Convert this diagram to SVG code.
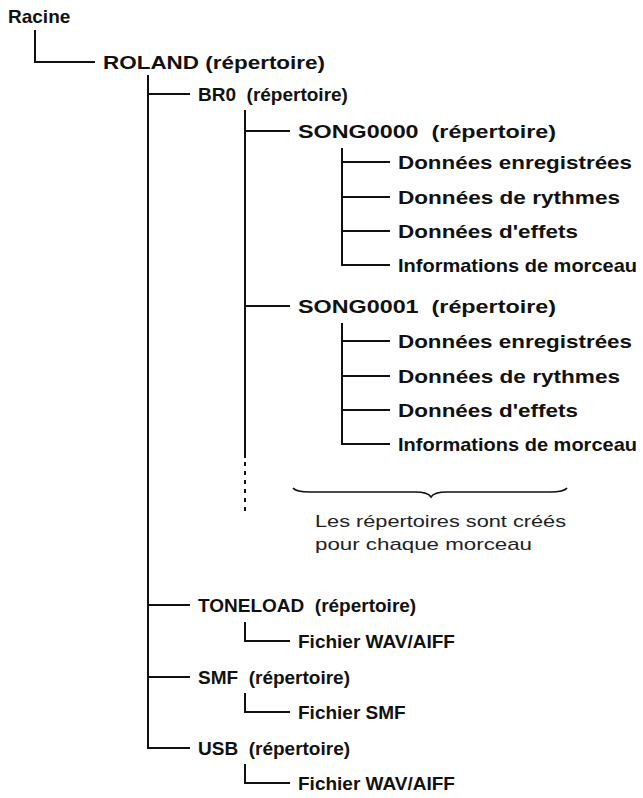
<svg xmlns="http://www.w3.org/2000/svg" width="643" height="798" viewBox="0 0 643 798">
<style>
.t{font-family:"Liberation Sans",Arial,sans-serif;font-weight:bold;font-size:19px;fill:#111}
.n{font-family:"Liberation Sans",Arial,sans-serif;font-size:17px;fill:#222}
.l{fill:none;stroke:#111;stroke-width:2}
</style>
<rect width="643" height="798" fill="#fff"/>
<g id="connectors">
<path class="l" d="M35 30V62H95"/>
<path class="l" d="M148 75V748H190M148 94H190M148 605H190M148 677H190"/>
<path class="l" d="M245 110V458M245 131H290M245 306H290"/>
<path class="l" d="M245 462V512" stroke-dasharray="4,5"/>
<path class="l" d="M342 148V265H390M342 162H390M342 197H390M342 231H390"/>
<path class="l" d="M342 323V444H390M342 341H390M342 376H390M342 410H390"/>
<path class="l" d="M245 622V641H290M245 693V712H290M245 764V783H290"/>
<path fill="none" stroke="#111" stroke-width="1.6" d="M293 488Q296 492 310 492H415Q428 492 431 497Q434 492 447 492H550Q564 492 567 488"/>
</g>
<g id="racine"><text class="t" x="8" y="23">Racine</text></g>
<g id="roland"><text class="t" x="103" y="69" textLength="222" lengthAdjust="spacingAndGlyphs">ROLAND (répertoire)</text></g>
<g id="br0"><text class="t" x="198" y="101" xml:space="preserve">BR0  (répertoire)</text></g>
<g id="song0000"><text class="t" x="298" y="138" textLength="258" lengthAdjust="spacingAndGlyphs" xml:space="preserve">SONG0000  (répertoire)</text>
<text class="t" x="398" y="169" textLength="234" lengthAdjust="spacingAndGlyphs">Données enregistrées</text>
<text class="t" x="398" y="204" textLength="222" lengthAdjust="spacingAndGlyphs">Données de rythmes</text>
<text class="t" x="398" y="238" textLength="180" lengthAdjust="spacingAndGlyphs">Données d'effets</text>
<text class="t" x="398" y="272" textLength="239" lengthAdjust="spacingAndGlyphs">Informations de morceau</text></g>
<g id="song0001"><text class="t" x="298" y="313" textLength="258" lengthAdjust="spacingAndGlyphs" xml:space="preserve">SONG0001  (répertoire)</text>
<text class="t" x="398" y="348" textLength="234" lengthAdjust="spacingAndGlyphs">Données enregistrées</text>
<text class="t" x="398" y="383" textLength="222" lengthAdjust="spacingAndGlyphs">Données de rythmes</text>
<text class="t" x="398" y="417" textLength="180" lengthAdjust="spacingAndGlyphs">Données d'effets</text>
<text class="t" x="398" y="451" textLength="239" lengthAdjust="spacingAndGlyphs">Informations de morceau</text></g>
<g id="note"><text class="n" x="315" y="527" textLength="251" lengthAdjust="spacingAndGlyphs">Les répertoires sont créés</text>
<text class="n" x="315" y="550" textLength="217" lengthAdjust="spacingAndGlyphs">pour chaque morceau</text></g>
<g id="toneload"><text class="t" x="198" y="612" xml:space="preserve">TONELOAD  (répertoire)</text>
<text class="t" x="298" y="648">Fichier WAV/AIFF</text></g>
<g id="smf"><text class="t" x="198" y="684" xml:space="preserve">SMF  (répertoire)</text>
<text class="t" x="298" y="719">Fichier SMF</text></g>
<g id="usb"><text class="t" x="198" y="755" xml:space="preserve">USB  (répertoire)</text>
<text class="t" x="298" y="790">Fichier WAV/AIFF</text></g>
</svg>
